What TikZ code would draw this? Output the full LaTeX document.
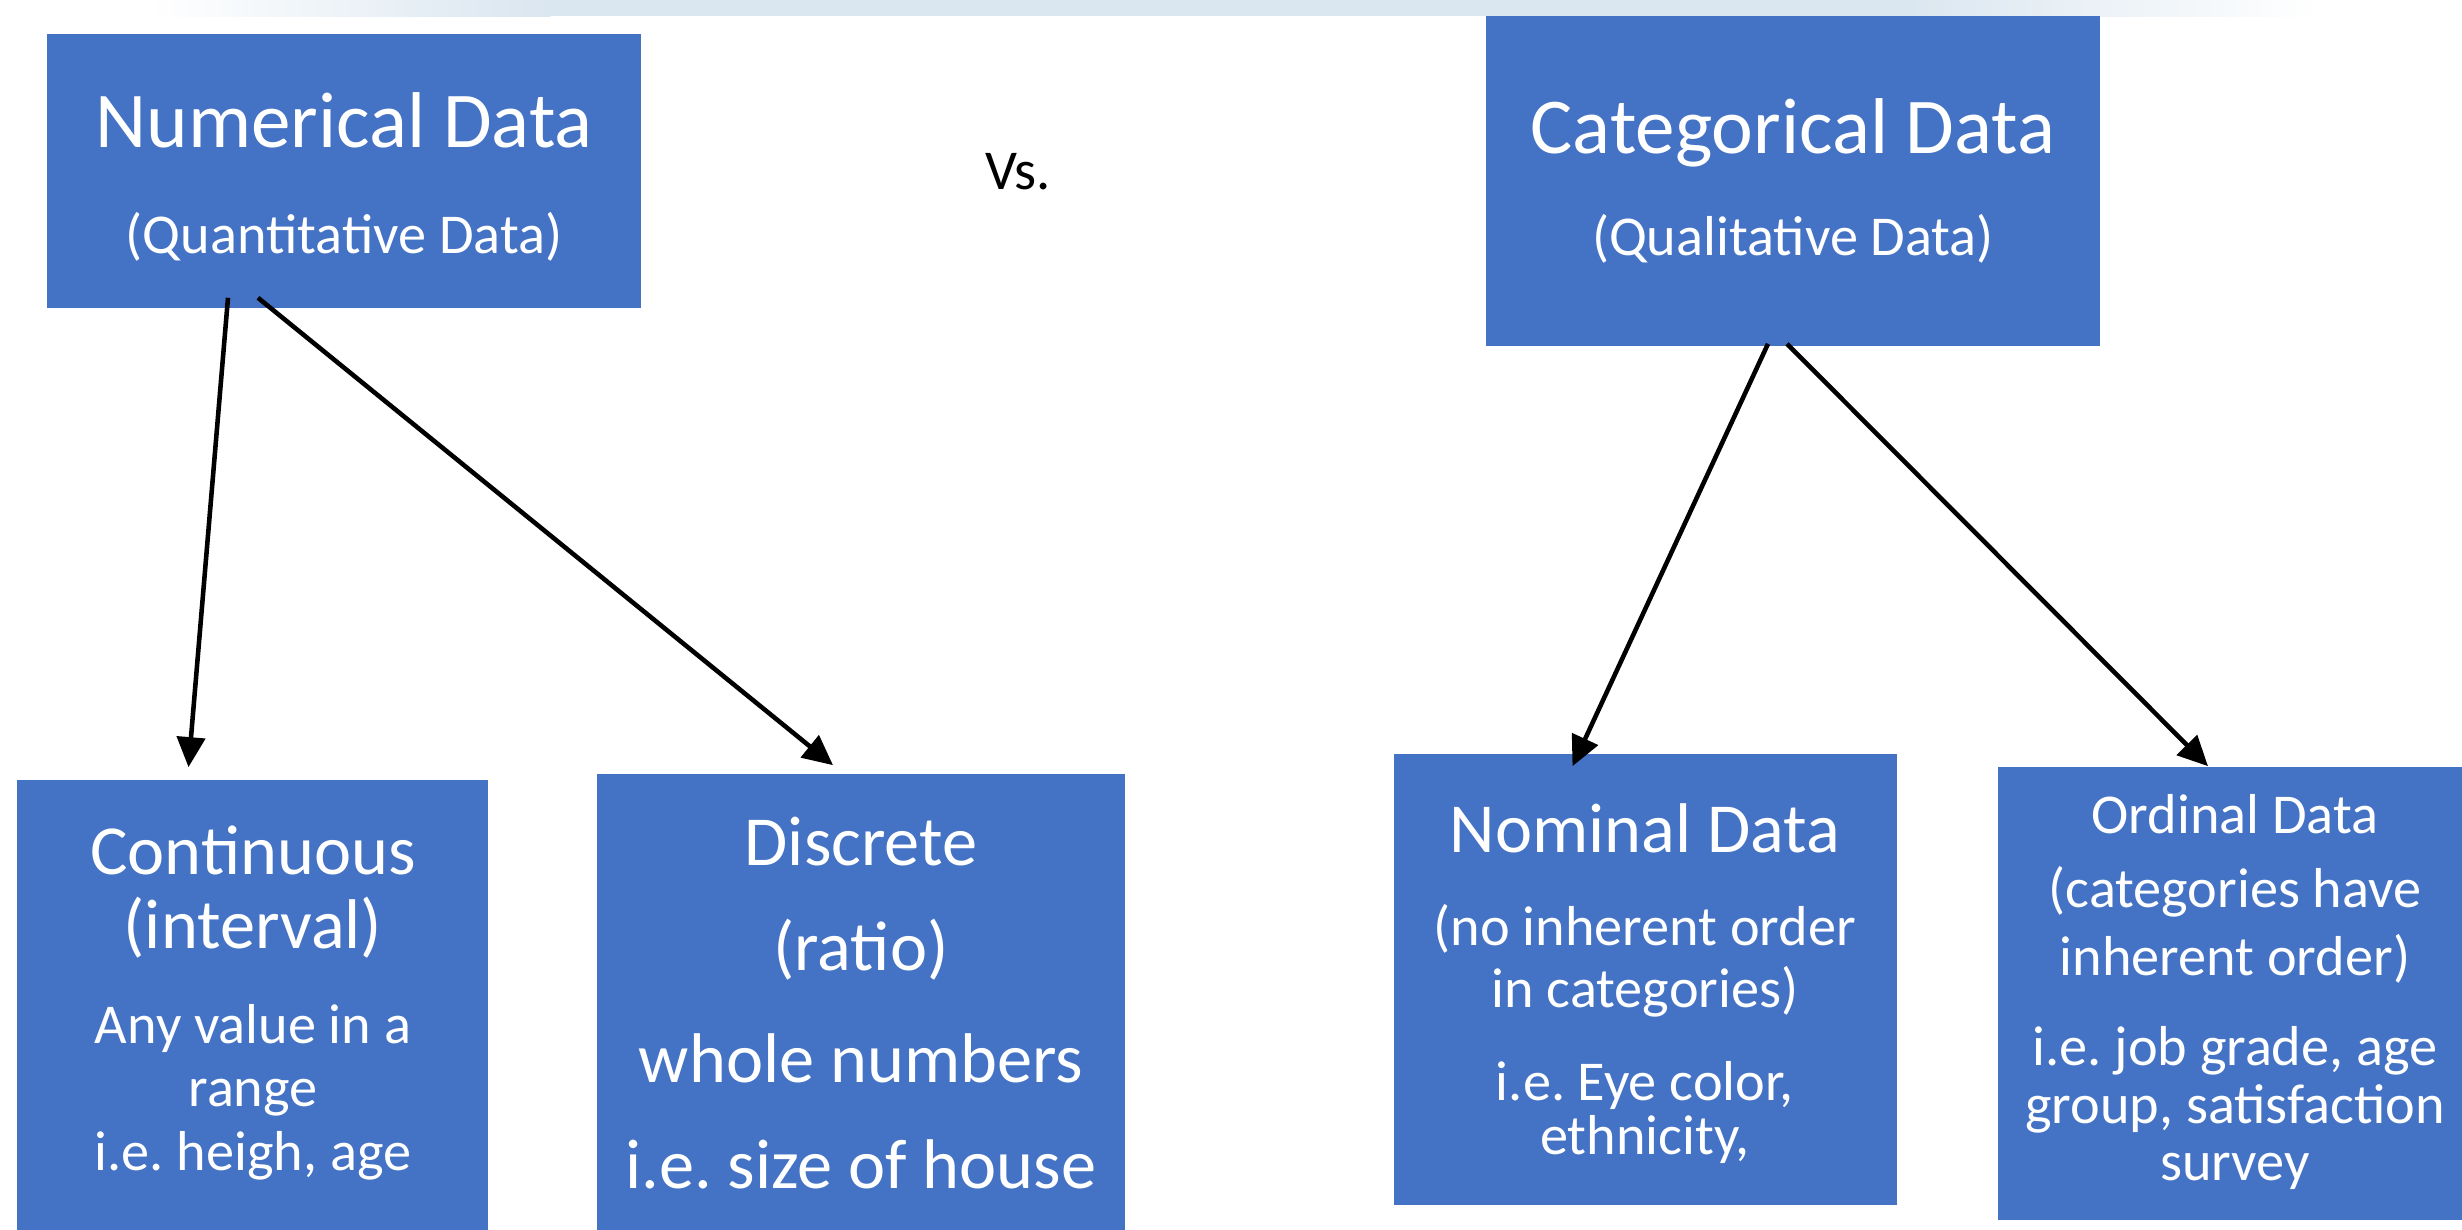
\documentclass[tikz,border=0pt]{standalone}
\usepackage{fontspec}
\setmainfont{Carlito}
\usetikzlibrary{arrows.meta, calc}
\frenchspacing

\definecolor{boxblue}{RGB}{68,114,196}
\definecolor{bandblue}{RGB}{218,230,240}

\begin{document}
\begin{tikzpicture}[x=0.01cm, y=-0.01cm,
  box/.style={fill=boxblue, inner sep=0pt},
  headtext/.style={text=white, anchor=base, inner sep=0pt, font=\fontsize{22.5}{27}\selectfont},
  midtext/.style={text=white, anchor=base, inner sep=0pt, font=\fontsize{20}{24}\selectfont},
  subtext/.style={text=white, anchor=base, inner sep=0pt, font=\fontsize{16}{19}\selectfont},
  arr/.style={line width=1.3pt, -{Triangle[length=0.3cm, width=0.28cm]}}]
\useasboundingbox (0,0) rectangle (2462,1229);
\clip (0,0) rectangle (2462,1229);

% Faded strip at the top
\shade[left color=white, right color=bandblue] (150,0) rectangle (550,16);
\fill[bandblue] (550,0) rectangle (1900,16);
\shade[left color=bandblue, right color=white] (1900,0) rectangle (2320,16);

% Boxes
\node[box, minimum width=5.94cm, minimum height=2.74cm] (num) at (344,171) {};
\node[box, minimum width=6.14cm, minimum height=3.30cm] (cat) at (1793,181) {};
\node[box, minimum width=4.71cm, minimum height=4.60cm] (cont) at (252.5,1010) {};
\node[box, minimum width=5.28cm, minimum height=4.66cm] (disc) at (861,1007) {};
\node[box, minimum width=5.03cm, minimum height=4.51cm] (nom) at (1645.5,979.5) {};
\node[box, minimum width=4.74cm, minimum height=4.53cm] (ord) at (2235,993.5) {};

% Labels
\node[headtext] (numA) at (344,147) {Numerical Data};
\node[subtext] (numB) at (344,253) {(Quantitative Data)};
\node[subtext, text=black] (vs) at (1018,189) {Vs.};
\node[headtext] (catA) at (1793,153) {Categorical Data};
\node[subtext] (catB) at (1793,255) {(Qualitative Data)};

\node[midtext] (contA) at (253,874) {Continuous};
\node[midtext] (contB) at (253,948) {(interval)};
\node[subtext] (contC) at (253,1043) {Any value in a};
\node[subtext] (contD) at (253,1106) {range};
\node[subtext] (contE) at (253,1170) {i.e. heigh, age};

\node[midtext] (discA) at (861,865) {Discrete};
\node[midtext] (discB) at (861,970) {(ratio)};
\node[midtext] (discC) at (861,1082) {whole numbers};
\node[midtext] (discD) at (861,1188) {i.e. size of house};

\node[midtext] (nomA) at (1645,852) {Nominal Data};
\node[subtext] (nomB) at (1645,945) {(no inherent order};
\node[subtext] (nomC) at (1645,1007) {in categories)};
\node[subtext] (nomD) at (1645,1100) {i.e. Eye color,};
\node[subtext] (nomE) at (1645,1154) {ethnicity,};

\node[subtext] (ordA) at (2235,833) {Ordinal Data};
\node[subtext] (ordB) at (2235,907) {(categories have};
\node[subtext] (ordC) at (2235,975) {inherent order)};
\node[subtext] (ordD) at (2235,1065) {i.e. job grade, age};
\node[subtext] (ordE) at (2235,1123) {group, satisfaction};
\node[subtext] (ordF) at (2235,1180) {survey};

% Arrows
\draw[arr] ($(num.south)+(-116,-11)$) -- ($(cont.north)+(-64,-12)$);
\draw[arr] ($(num.south)+(-86,-11)$) -- ($(disc.north)+(-28,-8)$);
\draw[arr] ($(cat.south)+(-25,-3)$) -- ($(nom.north)+(-73,13)$);
\draw[arr] ($(cat.south)+(-6,-3)$) -- ($(ord.north)+(-27,0)$);
\end{tikzpicture}
\end{document}
